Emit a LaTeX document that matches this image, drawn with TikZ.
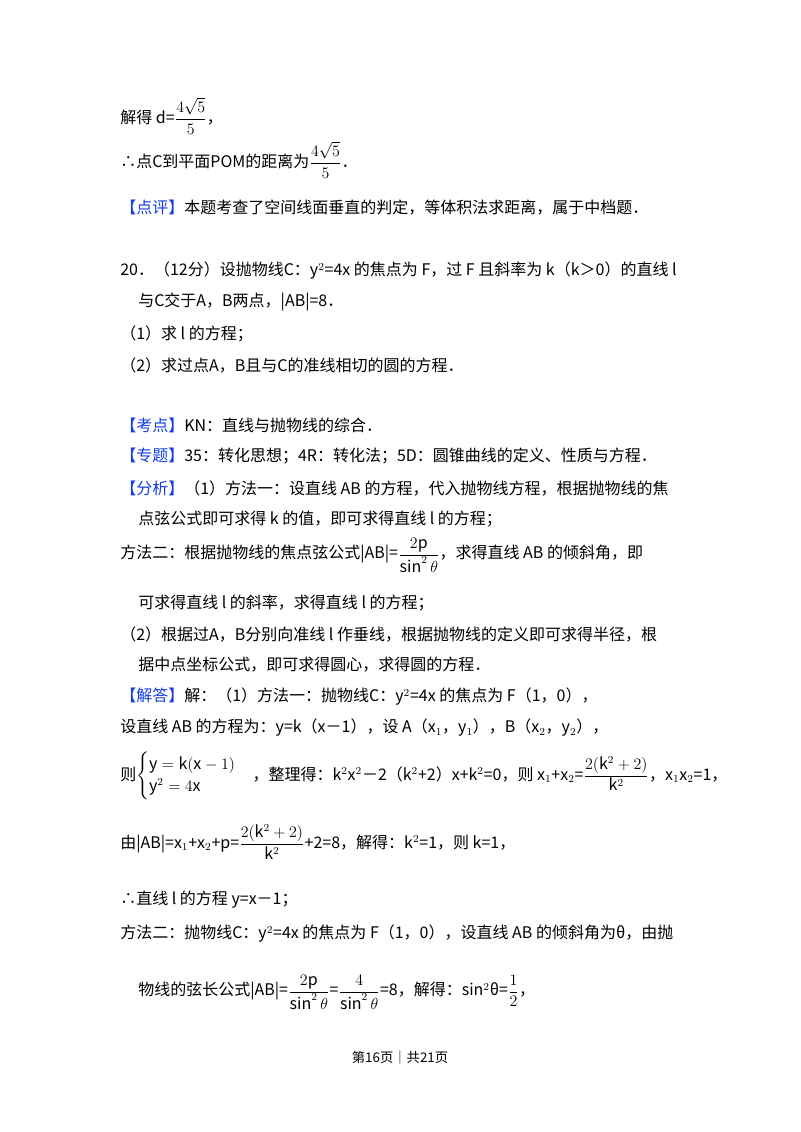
\documentclass[tikz,border=0pt]{standalone}
\usepackage{fontspec}
\usepackage{amsmath}
\setmainfont{Noto Sans CJK SC}
\definecolor{tagblue}{RGB}{20,60,230}
\begin{document}
\begin{tikzpicture}[x=0.75pt,y=-0.75pt,
  ln/.style={anchor=west,inner sep=0pt,font=\fontsize{12pt}{14pt}\selectfont},
  tag/.style={text=tagblue}]
\useasboundingbox (0,0) rectangle (800,1132);
\node[ln] (l1) at (120,116) {解得 d=$\dfrac{4\sqrt{5}}{5}$，};
\node[ln] (l2) at (120,160) {∴点C到平面POM的距离为$\dfrac{4\sqrt{5}}{5}$．};
\node[ln] (l3) at (120,208) {\textcolor{tagblue}{【点评】}本题考查了空间线面垂直的判定，等体积法求距离，属于中档题．};
\node[ln] (l4) at (120,271) {20．（12分）设抛物线C：y$^2$=4x 的焦点为 F，过 F 且斜率为 k（k＞0）的直线 l};
\node[ln] (l5) at (138,302) {与C交于A，B两点，|AB|=8．};
\node[ln] (l6) at (120,334) {（1）求 l 的方程；};
\node[ln] (l7) at (120,366) {（2）求过点A，B且与C的准线相切的圆的方程．};
\node[ln] (l8) at (120,425) {\textcolor{tagblue}{【考点】}KN：直线与抛物线的综合．};
\node[ln] (l9) at (120,456) {\textcolor{tagblue}{【专题】}35：转化思想；4R：转化法；5D：圆锥曲线的定义、性质与方程．};
\node[ln] (l10) at (120,488) {\textcolor{tagblue}{【分析】}（1）方法一：设直线 AB 的方程，代入抛物线方程，根据抛物线的焦};
\node[ln] (l11) at (138,519) {点弦公式即可求得 k 的值，即可求得直线 l 的方程；};
\node[ln] (l12) at (120,555) {方法二：根据抛物线的焦点弦公式|AB|=$\dfrac{2\mathrm{p}}{\sin^2\theta}$，求得直线 AB 的倾斜角，即};
\node[ln] (l13) at (138,603) {可求得直线 l 的斜率，求得直线 l 的方程；};
\node[ln] (l14) at (120,634) {（2）根据过A，B分别向准线 l 作垂线，根据抛物线的定义即可求得半径，根};
\node[ln] (l15) at (138,665) {据中点坐标公式，即可求得圆心，求得圆的方程．};
\node[ln] (l16) at (120,697) {\textcolor{tagblue}{【解答】}解：（1）方法一：抛物线C：y$^2$=4x 的焦点为 F（1，0），};
\node[ln] (l17) at (120,728) {设直线 AB 的方程为：y=k（x－1），设 A（x$_1$，y$_1$），B（x$_2$，y$_2$），};
\node[ln] (l18) at (120,776) {则$\begin{cases}\mathrm{y}=\mathrm{k}(\mathrm{x}-1)\\ \mathrm{y}^2=4\mathrm{x}\end{cases}$，整理得：k$^2$x$^2$－2（k$^2$+2）x+k$^2$=0，则 x$_1$+x$_2$=$\dfrac{2(\mathrm{k}^2+2)}{\mathrm{k}^2}$，x$_1$x$_2$=1，};
\node[ln] (l19) at (120,842) {由|AB|=x$_1$+x$_2$+p=$\dfrac{2(\mathrm{k}^2+2)}{\mathrm{k}^2}$+2=8，解得：k$^2$=1，则 k=1，};
\node[ln] (l20) at (120,900) {∴直线 l 的方程 y=x－1；};
\node[ln] (l21) at (120,934) {方法二：抛物线C：y$^2$=4x 的焦点为 F（1，0），设直线 AB 的倾斜角为θ，由抛};
\node[ln] (l22) at (138,992) {物线的弦长公式|AB|=$\dfrac{2\mathrm{p}}{\sin^2\theta}$=$\dfrac{4}{\sin^2\theta}$=8，解得：sin$^2$θ=$\dfrac{1}{2}$，};
\node[inner sep=0pt,font=\fontsize{10pt}{12pt}\selectfont] (ft) at (400,1057) {第16页｜共21页};
\end{tikzpicture}
\end{document}
